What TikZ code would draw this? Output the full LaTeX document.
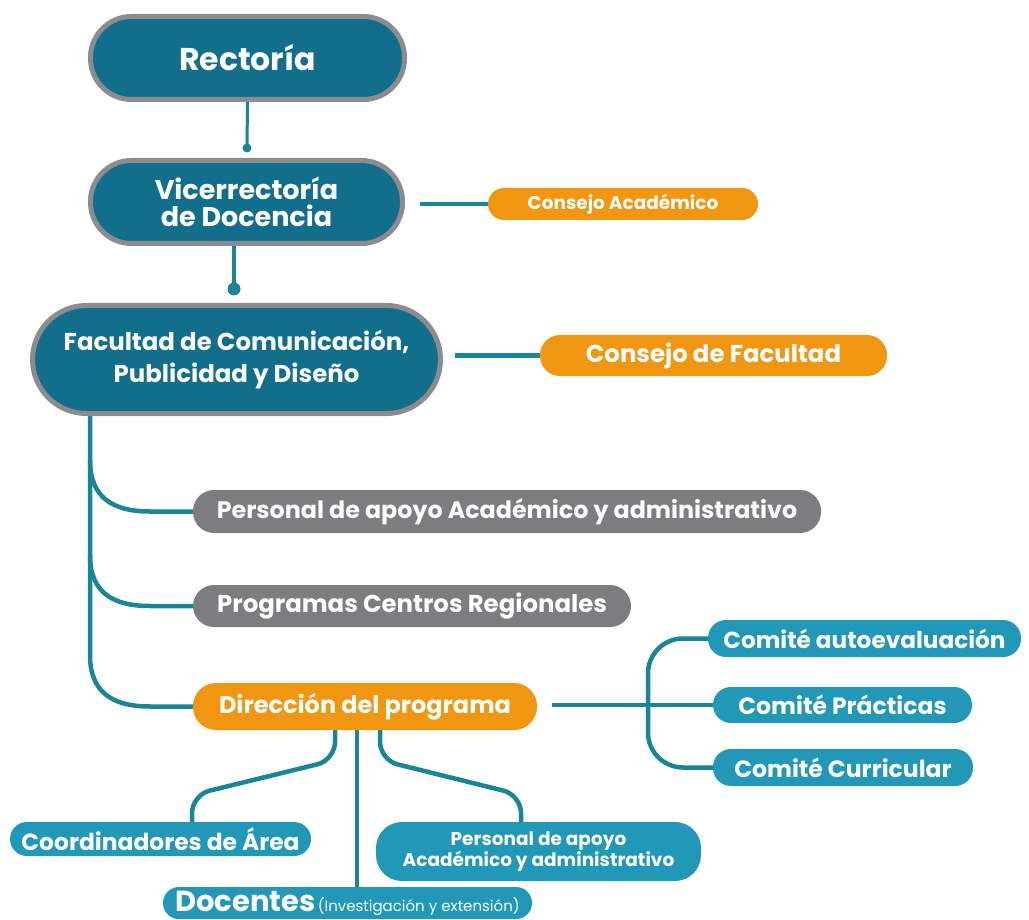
\documentclass[tikz,border=0pt]{standalone}
\usepackage{fontspec}
\setmainfont{Poppins}
\usetikzlibrary{backgrounds}
\definecolor{tealdark}{RGB}{17,111,140}
\definecolor{tealline}{RGB}{24,134,150}
\definecolor{teallight}{RGB}{33,152,183}
\definecolor{orangec}{RGB}{240,150,16}
\definecolor{grayc}{RGB}{125,125,128}
\definecolor{bordergray}{RGB}{140,140,142}
\newcommand\fsz[1]{\fontsize{#1}{#1}\selectfont}
\begin{document}
\begin{tikzpicture}[x=1pt,y=-1pt,
  big/.style={draw=bordergray, line width=5pt, fill=tealdark, text=white, align=center, inner sep=0pt},
  pillbox/.style={fill=#1, text=white, align=center, inner sep=0pt},
  conn/.style={draw=tealline, line width=4.5pt},
  dotc/.style={fill=tealline}]
\useasboundingbox (0,0) rectangle (1029,920);
% main boxes
\node[big, minimum width=314pt, minimum height=83pt, rounded corners=41pt, font=\bfseries\fsz{31.5}] (rect) at (247.5,58) {Rectoría};
\node[big, minimum width=312pt, minimum height=83pt, rounded corners=41pt, font=\bfseries\fontsize{27}{27}\selectfont] (vice) at (246.5,202) {Vicerrectoría\\de Docencia};
\node[big, minimum width=408pt, minimum height=108pt, rounded corners=54pt, font=\bfseries\fontsize{24.4}{32}\selectfont] (fac) at (236.5,359.5) {Facultad de Comunicación,\\Publicidad y Diseño};
% orange
\node[pillbox=orangec, minimum width=270pt, minimum height=32pt, rounded corners=16pt, font=\bfseries\fsz{18.5}] (cacad) at (623,204) {Consejo Académico};
\node[pillbox=orangec, minimum width=347pt, minimum height=41pt, rounded corners=20pt, font=\bfseries\fsz{24.4}] (cfac) at (713.5,355.5) {Consejo de Facultad};
\node[pillbox=orangec, minimum width=344pt, minimum height=47pt, rounded corners=23pt, font=\bfseries\fsz{24}] (dir) at (365,706.5) {Dirección del programa};
% gray
\node[pillbox=grayc, minimum width=628pt, minimum height=43pt, rounded corners=21pt, font=\bfseries\fsz{23.8}] (pers) at (507,511.5) {Personal de apoyo Académico y administrativo};
\node[pillbox=grayc, minimum width=438pt, minimum height=42pt, rounded corners=21pt, font=\bfseries\fsz{24.4}] (prog) at (412,606) {Programas Centros Regionales};
% comites
\node[pillbox=teallight, minimum width=313pt, minimum height=37pt, rounded corners=18pt, font=\bfseries\fsz{23.2}] (cauto) at (864.5,638.5) {Comité autoevaluación};
\node[pillbox=teallight, minimum width=259pt, minimum height=36pt, rounded corners=18pt, font=\bfseries\fsz{23.5}] (cprac) at (842.5,705) {Comité Prácticas};
\node[pillbox=teallight, minimum width=260pt, minimum height=37pt, rounded corners=18pt, font=\bfseries\fsz{23.5}] (ccurr) at (843,767.5) {Comité Curricular};
% bottom
\node[pillbox=teallight, minimum width=301pt, minimum height=34pt, rounded corners=17pt, font=\bfseries\fsz{23.4}] (coord) at (160.5,839) {Coordinadores de Área};
\node[pillbox=teallight, minimum width=325pt, minimum height=59pt, rounded corners=26pt, font=\bfseries\fontsize{18.5}{18}\selectfont] (pers2) at (538.5,851.5) {Personal de apoyo\\Académico y administrativo};
\node[pillbox=teallight, minimum width=369pt, minimum height=32pt, rounded corners=16pt, font=\bfseries] (doc) at (347.5,903) {{\fsz{29}Docentes} {\mdseries\fsz{15}(Investigación y extensión)}};
% connectors
\begin{scope}[on background layer]
\coordinate (d1) at (247,148);
\coordinate (d2) at (234,289);
\draw[conn, line width=3pt] (rect.south) -- (d1);
\fill[dotc] (d1) circle (4.5);
\draw[conn] (vice.south -| d2) -- (d2);
\fill[dotc] (d2) circle (6.5);
\draw[conn] ([xshift=15pt]vice.east |- cacad.west) -- (cacad.west);
\draw[conn] ([xshift=12pt]fac.east |- cfac.west) -- (cfac.west);
\coordinate (tx) at (90,0);
\draw[conn] (fac.south -| tx) -- (90,655) .. controls (90,692) and (112,706.5) .. (150,706.5) -- (dir.west);
\draw[conn] (90,460) .. controls (90,497) and (112,511.5) .. (150,511.5) -- (pers.west);
\draw[conn] (90,555) .. controls (90,592) and (112,606) .. (150,606) -- (prog.west);
\draw[conn] ([xshift=15pt]dir.east |- cprac.west) -- (cprac.west);
\draw[conn, rounded corners=35pt] (cauto.west) -- (648,638.5) -- (648,767.5) -- (ccurr.west);
\coordinate (bl) at (335,0);
\coordinate (bm) at (357,0);
\coordinate (br) at (380,0);
\coordinate (cl) at (192,0);
\coordinate (cr) at (521,0);
\draw[conn, rounded corners=18pt] (dir.south -| bl) -- (335,760) -- (192,795) -- (coord.north -| cl);
\draw[conn, rounded corners=18pt] (dir.south -| br) -- (380,760) -- (521,795) -- (pers2.north -| cr);
\draw[conn] (dir.south -| bm) -- (doc.north -| bm);
\end{scope}
\end{tikzpicture}
\end{document}
